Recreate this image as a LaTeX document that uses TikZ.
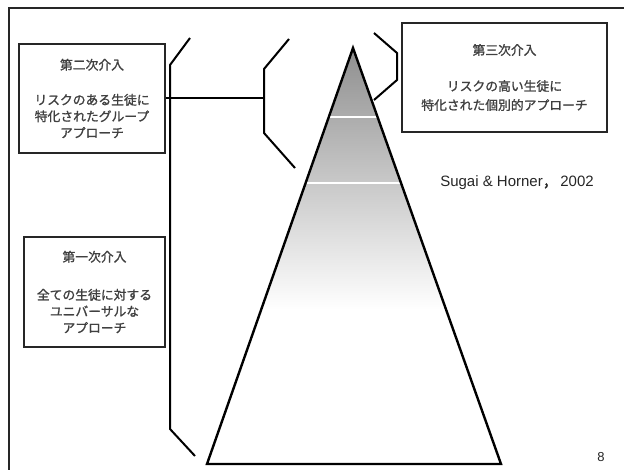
\documentclass[tikz,border=0pt]{standalone}
\usepackage{fontspec}
\setmainfont{Liberation Sans}
\newfontfamily\jp[FakeBold=1.3]{Noto Sans CJK JP}
\begin{document}
\begin{tikzpicture}[x=1pt,y=-1pt,
  box/.style={draw=black!85,line width=2.4pt,fill=white,rectangle,inner sep=0pt,align=center,font=\jp\fontsize{12.8}{16.5}\selectfont,text=black!75},
  brk/.style={draw=black,line width=2pt},
  band/.style={draw=white,line width=2pt}]
\useasboundingbox (0,0) rectangle (624,470);
\fill[white] (0,0) rectangle (624,470);
% frame
\draw[line width=2pt,black!85] (624,8) -- (9,8) -- (9,470);
% pyramid
\coordinate (A) at (353,48);
\coordinate (BL) at (207,464);
\coordinate (BR) at (501,464);
\begin{scope}
\clip (A) -- (BL) -- (BR) -- cycle;
\shade[top color=black!44, middle color=black!33, bottom color=white] (200,48) rectangle (510,310);
\draw[band] (320,117) -- (390,117);
\draw[band] (295,183) -- (410,183);
\end{scope}
\draw[line width=2.4pt,line join=miter] (A) -- (BL) -- (BR) -- cycle;
% brackets
\draw[brk] (190,38) -- (170,65) -- (170,429) -- (195,456);
\coordinate (mbr) at (264,98);
\draw[brk] (289,39) -- (264,69) -- (264,133) -- (295,168);
\draw[brk] (374,33) -- (397,53) -- (397,80) -- (374,100);
% boxes
\node[box,minimum width=146pt,minimum height=109pt] (b2) at (92,98.5)
 {第二次介入\\[18.5pt]リスクのある生徒に\\特化されたグループ\\アプローチ};
\node[box,minimum width=141pt,minimum height=110pt] (b1) at (94.5,292)
 {第一次介入\\[21.5pt]全ての生徒に対する\\ユニバーサルな\\アプローチ};
\node[box,minimum width=205pt,minimum height=109pt,font=\jp\fontsize{12.8}{19}\selectfont] (b3) at (504.5,77.5)
 {第三次介入\\[17pt]リスクの高い生徒に\\特化された個別的アプローチ};
\draw[brk] (b2.east) -- (b2.east -| mbr);
% citation
\node[font=\fontsize{15}{17}\selectfont,text=black!85,inner sep=0pt] (cit) at (517,183) {Sugai \& Horner{\jp ，}\,2002};
\node[font=\fontsize{13}{15}\selectfont,text=black!85,inner sep=0pt] (pg) at (601,457) {8};
\end{tikzpicture}
\end{document}
